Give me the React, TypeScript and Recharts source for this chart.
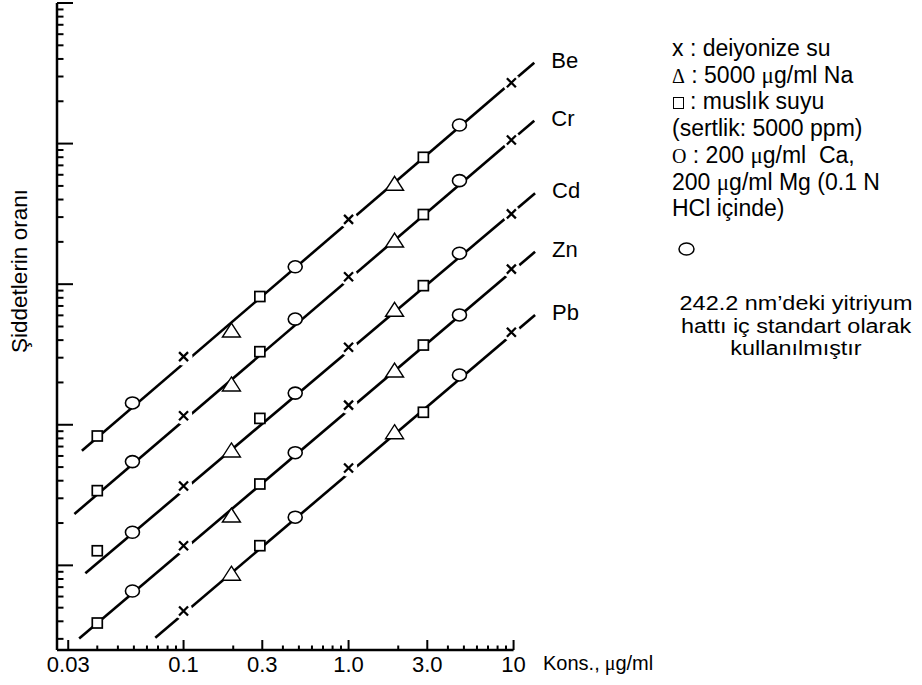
import React from "react";
import {
  ComposedChart,
  Line,
  Scatter,
  XAxis,
  YAxis,
  ReferenceLine,
} from "recharts";

// concentrations (µg/ml) where the markers sit, and which marker is drawn there
const conc = [0.03, 0.049, 0.1, 0.195, 0.29, 0.475, 1.0, 1.9, 2.84, 4.7, 9.7];
const markerKind = [
  "square", "circle", "cross", "triangle", "square", "circle",
  "cross", "triangle", "square", "circle", "cross",
];

// intensity ratio, one array per element
const beRatio = [0.832, 1.43, 3.05, 4.72, 8.17, 13.3, 28.9, 52.2, 79.9, 135.6, 271];
const crRatio = [0.34, 0.547, 1.16, 1.95, 3.31, 5.65, 11.3, 20.6, 31.3, 54.5, 106];
const cdRatio = [0.127, 0.172, 0.367, 0.662, 1.11, 1.68, 3.56, 6.63, 9.76, 16.6, 31.6];
const znRatio = [0.0389, 0.0657, 0.138, 0.228, 0.379, 0.633, 1.38, 2.45, 3.69, 6.04, 12.8];
const pbRatio = [null, null, 0.0474, 0.0879, 0.138, 0.22, 0.493, 0.893, 1.227, 2.26, 4.55];

const elements = ["Be", "Cr", "Cd", "Zn", "Pb"];
const ratios = [beRatio, crRatio, cdRatio, znRatio, pbRatio];

// calibration line ends
const lineStartX = [0.0242, 0.0218, 0.0254, 0.0233, 0.0674];
const lineStartY = [0.654, 0.232, 0.0879, 0.0302, 0.0306];
const lineEndX = [13.35, 13.35, 13.5, 13.5, 13.5];
const lineEndY = [376, 145.5, 44.3, 17.0, 6.04];

// axis ticks (the first major tick is printed "0.03" in the original)
const xMajorTicks = [0.02, 0.1, 0.3, 1, 3, 10];
const xMajorLabels = ["0.03", "0.1", "0.3", "1.0", "3.0", "10"];
const xMinorTicks = [
  0.03, 0.04, 0.05, 0.06, 0.07, 0.08, 0.09,
  0.2, 0.4, 0.5, 0.6, 0.7, 0.8, 0.9,
  2, 4, 5, 6, 7, 8, 9,
];
const yMajorTicks = [0.1, 1, 10, 100, 1000];
const yMinorTicks = [
  0.03, 0.04, 0.05, 0.06, 0.07, 0.08, 0.09,
  0.2, 0.3, 0.4, 0.5, 0.6, 0.7, 0.8, 0.9,
  2, 3, 4, 5, 6, 7, 8, 9,
  20, 30, 40, 50, 60, 70, 80, 90,
  200, 300, 400, 500, 600, 700, 800, 900,
];

const noteLines = ["242.2 nm’deki yitriyum", "hattı iç standart olarak", "kullanılmıştır"];

const X_MIN = 0.0171;
const X_MAX = 14.46;
const Y_MIN = 0.025;
const Y_MAX = 1000;

const SANS = "'Liberation Sans', Arial, sans-serif";
const SERIF = "'Liberation Serif', 'Times New Roman', serif";

const XTick = (props: any) => {
  const { x, y, payload } = props;
  const idx = xMajorTicks.indexOf(payload.value);
  const major = idx >= 0;
  return (
    <g>
      <line x1={x} x2={x} y1={y} y2={y - (major ? 10 : 4.5)} stroke="#000" strokeWidth={2} />
      {major && (
        <text x={x} y={y + 22} textAnchor="middle" fontSize={22} fontFamily={SANS} fill="#000">
          {xMajorLabels[idx]}
        </text>
      )}
    </g>
  );
};

const YTick = (props: any) => {
  const { x, y, payload } = props;
  const major = yMajorTicks.includes(payload.value);
  return <line x1={x} x2={x + (major ? 16 : 6.5)} y1={y} y2={y} stroke="#000" strokeWidth={2} />;
};

const Marker = (props: any) => {
  const { cx, cy, payload } = props;
  if (cx == null || cy == null) return <g />;
  const k = payload.kind;
  if (k === "cross") {
    return (
      <g>
        <circle cx={cx} cy={cy} r={9} fill="#fff" />
        <path
          d={`M${cx - 4.5},${cy - 4.5}L${cx + 4.5},${cy + 4.5}M${cx + 4.5},${cy - 4.5}L${cx - 4.5},${cy + 4.5}`}
          stroke="#000"
          strokeWidth={2.3}
        />
      </g>
    );
  }
  if (k === "circle") {
    return <ellipse cx={cx} cy={cy} rx={7} ry={6} fill="#fff" stroke="#000" strokeWidth={1.6} />;
  }
  if (k === "square") {
    return <rect x={cx - 5} y={cy - 5} width={10} height={10} fill="#fff" stroke="#000" strokeWidth={1.7} />;
  }
  return (
    <path d={`M${cx},${cy - 7}L${cx + 9},${cy + 7}L${cx - 9},${cy + 7}Z`} fill="#fff" stroke="#000" strokeWidth={1.4} />
  );
};

export default function App() {
  const lines = elements.map((name, i) => ({
    name,
    data: [
      { x: lineStartX[i], y: lineStartY[i] },
      { x: lineEndX[i], y: lineEndY[i] },
    ],
  }));

  const points = elements.map((name, i) => ({
    name,
    data: conc
      .map((c, j) => (ratios[i][j] == null ? null : { x: c, y: ratios[i][j], kind: markerKind[j] }))
      .filter(Boolean),
  }));

  const lineStyle = { position: "absolute" as const, left: 672, whiteSpace: "nowrap" as const };

  return (
    <div style={{ position: "absolute", left: 0, top: 0, width: 922, height: 685, background: "#fff", fontFamily: SANS }}>
      <ComposedChart width={922} height={685} margin={{ top: 3, right: 382, bottom: 0, left: 0 }}>
        <XAxis
          dataKey="x"
          type="number"
          scale="log"
          domain={[X_MIN, X_MAX]}
          ticks={[...xMajorTicks, ...xMinorTicks]}
          interval={0}
          tick={<XTick />}
          tickLine={false}
          axisLine={false}
          tickSize={0}
          tickMargin={0}
          height={35}
          allowDataOverflow
        />
        <YAxis
          dataKey="y"
          type="number"
          scale="log"
          domain={[Y_MIN, Y_MAX]}
          ticks={[...yMajorTicks, ...yMinorTicks]}
          interval={0}
          tick={<YTick />}
          tickLine={false}
          axisLine={{ stroke: "#000", strokeWidth: 2.5 }}
          tickSize={0}
          tickMargin={0}
          width={57}
          allowDataOverflow
        />
        <ReferenceLine
          segment={[{ x: X_MIN, y: Y_MIN }, { x: 10, y: Y_MIN }]}
          stroke="#000"
          strokeWidth={2.5}
          ifOverflow="visible"
        />
        {lines.map((l) => (
          <Line
            key={l.name}
            data={l.data}
            dataKey="y"
            type="linear"
            stroke="#000"
            strokeWidth={2.6}
            dot={false}
            activeDot={false}
            isAnimationActive={false}
            label={(p: any) =>
              p.index === 1 ? (
                <text key={l.name} x={p.x + 17} y={p.y + 5} fontSize={22} fontFamily={SANS} fill="#000">
                  {l.name}
                </text>
              ) : (
                <g key={`${l.name}-${p.index}`} />
              )
            }
          />
        ))}
        {points.map((s) => (
          <Scatter key={s.name} data={s.data as any[]} shape={<Marker />} isAnimationActive={false} />
        ))}
      </ComposedChart>

      <div
        style={{
          position: "absolute",
          left: 20,
          top: 271,
          transform: "translate(-50%, -50%) rotate(-90deg)",
          fontSize: 22.5,
          whiteSpace: "nowrap",
        }}
      >
        Şiddetlerin oranı
      </div>

      <div style={{ position: "absolute", left: 543, top: 652, fontSize: 20, whiteSpace: "nowrap" }}>
        Kons.,<span style={{ fontFamily: SERIF }}> μ</span>g/ml
      </div>

      <div style={{ fontSize: 23, lineHeight: "26.7px" }}>
        <div style={{ ...lineStyle, top: 35 }}>x : deiyonize su</div>
        <div style={{ ...lineStyle, top: 61.7 }}>
          <span style={{ fontFamily: SERIF, fontSize: 20 }}>Δ</span> : 5000 <span style={{ fontFamily: SERIF }}>μ</span>g/ml Na
        </div>
        <div style={{ ...lineStyle, top: 88.4 }}>
          <span
            style={{
              display: "inline-block",
              width: 11,
              height: 12,
              border: "1.5px solid #000",
              boxSizing: "border-box",
              marginRight: 6,
              marginLeft: 1,
            }}
          />
          : muslık suyu
        </div>
        <div style={{ ...lineStyle, top: 115.1 }}>(sertlik: 5000 ppm)</div>
        <div style={{ ...lineStyle, top: 141.8 }}>
          <span style={{ fontFamily: SERIF, fontSize: 20 }}>O</span> : 200 <span style={{ fontFamily: SERIF }}>μ</span>g/ml&nbsp; Ca,
        </div>
        <div style={{ ...lineStyle, top: 168.5 }}>
          200 <span style={{ fontFamily: SERIF }}>μ</span>g/ml Mg (0.1 N
        </div>
        <div style={{ ...lineStyle, top: 195.2 }}>HCl içinde)</div>
      </div>
      <svg style={{ position: "absolute", left: 676, top: 240 }} width={22} height={18}>
        <ellipse cx={10.5} cy={9} rx={7.5} ry={6} fill="#fff" stroke="#000" strokeWidth={1.5} />
      </svg>

      {noteLines.map((t, i) => (
        <div
          key={t}
          style={{
            position: "absolute",
            left: 796,
            top: 292 + i * 22.5,
            transform: "translateX(-50%) scaleX(1.17)",
            fontSize: 20,
            lineHeight: "22.5px",
            whiteSpace: "nowrap",
          }}
        >
          {t}
        </div>
      ))}
    </div>
  );
}
